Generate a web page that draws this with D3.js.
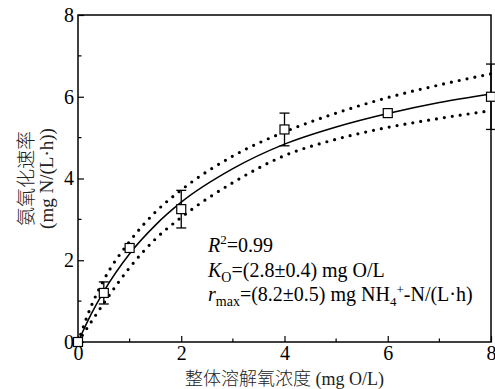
<!DOCTYPE html>
<html>
<head>
<meta charset="utf-8">
<script src="https://cdn.jsdelivr.net/npm/d3@7"></script>
</head>
<body style="margin:0;background:#fff">
<div id="chart"></div>
<script>
// measured points (DO in mg O/L, rate in mg N/(L·h))
var doValues = [0, 0.5, 1, 2, 4, 6, 8];
var rateValues = [0, 1.2, 2.3, 3.25, 5.2, 5.6, 6.0];
var rateErrors = [0, 0.27, 0.08, 0.46, 0.4, 0.08, 0.8];

// fitted curve and confidence band
var curveX = [0, 0.25, 0.5, 1, 1.5, 2, 3, 4, 5, 6, 7, 8];
var fitValues = [0, 0.67, 1.24, 2.16, 2.86, 3.42, 4.24, 4.84, 5.26, 5.59, 5.86, 6.07];
var upperValues = [0, 0.86, 1.52, 2.46, 3.18, 3.72, 4.55, 5.14, 5.60, 5.98, 6.29, 6.56];
var lowerValues = [0, 0.48, 0.95, 1.82, 2.52, 3.05, 3.90, 4.56, 4.96, 5.25, 5.47, 5.66];

var xTicks = [0, 2, 4, 6, 8];
var yTicks = [0, 2, 4, 6, 8];
var minorTicks = [1, 3, 5, 7];

var width = 495, height = 389;
var margin = { top: 15, right: 4, bottom: 47, left: 78 };
var serif = "'Liberation Serif', 'Times New Roman', 'DejaVu Serif', serif";
var cjk = "'Noto Sans CJK SC', sans-serif";

var svg = d3.select("#chart").append("svg")
    .attr("width", width)
    .attr("height", height)
    .style("display", "block")
    .style("font-family", serif);

var x = d3.scaleLinear().domain([0, 8]).range([margin.left, width - margin.right]);
var y = d3.scaleLinear().domain([0, 8]).range([height - margin.bottom, margin.top]);

// frame
svg.append("rect")
    .attr("x", x(0)).attr("y", y(8))
    .attr("width", x(8) - x(0)).attr("height", y(0) - y(8))
    .attr("fill", "none").attr("stroke", "#000").attr("stroke-width", 1.5);

// axes, ticks pointing inward
var xAxis = svg.append("g").attr("transform", "translate(0," + y(0) + ")")
    .call(d3.axisBottom(x).tickValues(xTicks).tickSize(-6).tickPadding(4).tickFormat(d3.format("d")));
xAxis.append("g").selectAll("line").data(minorTicks).enter().append("line")
    .attr("x1", function (d) { return x(d); }).attr("x2", function (d) { return x(d); })
    .attr("y1", 0).attr("y2", -3.5).attr("stroke", "#000").attr("stroke-width", 1.2);

var yAxis = svg.append("g").attr("transform", "translate(" + x(0) + ",0)")
    .call(d3.axisLeft(y).tickValues(yTicks).tickSize(-6).tickPadding(4).tickFormat(d3.format("d")));
yAxis.append("g").selectAll("line").data(minorTicks).enter().append("line")
    .attr("y1", function (d) { return y(d); }).attr("y2", function (d) { return y(d); })
    .attr("x1", 0).attr("x2", 3.5).attr("stroke", "#000").attr("stroke-width", 1.2);

svg.selectAll(".domain").remove();
xAxis.attr("font-family", null).attr("font-size", 20);
yAxis.attr("font-family", null).attr("font-size", 20);
svg.selectAll(".tick line").attr("stroke", "#000").attr("stroke-width", 1.2);
svg.selectAll(".tick text").attr("fill", "#000").style("font-family", serif);

// curves
var line = function (vals) {
    return d3.line()
        .x(function (d, i) { return x(curveX[i]); })
        .y(function (d) { return y(d); })
        .curve(d3.curveMonotoneX)(vals);
};

[upperValues, lowerValues].forEach(function (vals) {
    svg.append("path")
        .attr("d", line(vals))
        .attr("fill", "none")
        .attr("stroke", "#000")
        .attr("stroke-width", 3.2)
        .attr("stroke-linecap", "round")
        .attr("stroke-dasharray", "0,8");
});

svg.append("path")
    .attr("d", line(fitValues))
    .attr("fill", "none")
    .attr("stroke", "#000")
    .attr("stroke-width", 1.5);

// error bars
var pts = doValues.map(function (d, i) { return { x: d, y: rateValues[i], e: rateErrors[i] }; });
var eb = svg.append("g").selectAll("g").data(pts.filter(function (d) { return d.e > 0.1; })).enter().append("g");
eb.append("line")
    .attr("x1", function (d) { return x(d.x); }).attr("x2", function (d) { return x(d.x); })
    .attr("y1", function (d) { return y(d.y + d.e); }).attr("y2", function (d) { return y(d.y - d.e); })
    .attr("stroke", "#000").attr("stroke-width", 1.3);
[1, -1].forEach(function (s) {
    eb.append("line")
        .attr("x1", function (d) { return x(d.x) - 5; }).attr("x2", function (d) { return x(d.x) + 5; })
        .attr("y1", function (d) { return y(d.y + s * d.e); }).attr("y2", function (d) { return y(d.y + s * d.e); })
        .attr("stroke", "#000").attr("stroke-width", 1.3);
});

// markers
svg.append("g").selectAll("rect").data(pts).enter().append("rect")
    .attr("x", function (d) { return x(d.x) - 4.5; })
    .attr("y", function (d) { return y(d.y) - 4.5; })
    .attr("width", 9).attr("height", 9)
    .attr("fill", "#fff").attr("stroke", "#000").attr("stroke-width", 1.2);

// axis titles
var xt = svg.append("text")
    .attr("x", (x(0) + x(8)) / 2).attr("y", 385)
    .attr("text-anchor", "middle").attr("font-size", 18).attr("fill", "#222");
xt.append("tspan").style("font-family", cjk).attr("font-weight", 300).text("整体溶解氧浓度");
xt.append("tspan").style("font-family", serif).text(" (mg O/L)");

var yt = svg.append("text")
    .attr("transform", "translate(33," + (y(0) + y(8)) / 2 + ") rotate(-90)")
    .attr("text-anchor", "middle").attr("font-size", 19).attr("fill", "#222");
yt.append("tspan").style("font-family", cjk).attr("font-weight", 300).attr("x", 0).attr("dy", 0).text("氨氧化速率");
yt.append("tspan").style("font-family", serif).attr("x", 0).attr("dy", 20).text("(mg N/(L·h))");

// fit annotation
var ann = svg.append("g").attr("transform", "translate(208,0)")
    .attr("font-size", 20).style("font-family", serif);
var t1 = ann.append("text").attr("y", 252);
t1.append("tspan").attr("font-style", "italic").text("R");
t1.append("tspan").attr("font-size", 13).attr("dy", -8).text("2");
t1.append("tspan").attr("dy", 8).text("=0.99");

var t2 = ann.append("text").attr("y", 277);
t2.append("tspan").attr("font-style", "italic").text("K");
t2.append("tspan").attr("font-size", 14).attr("dy", 5).text("O");
t2.append("tspan").attr("dy", -5).text("=(2.8±0.4) mg O/L");

var t3 = ann.append("text").attr("y", 301);
t3.append("tspan").attr("font-style", "italic").text("r");
t3.append("tspan").attr("font-size", 14).attr("dy", 5).text("max");
t3.append("tspan").attr("dy", -5).text("=(8.2±0.5) mg NH");
t3.append("tspan").attr("font-size", 13).attr("dy", 5).text("4");
t3.append("tspan").attr("font-size", 13).attr("dy", -12).text("+");
t3.append("tspan").attr("dy", 7).text("-N/(L·h)");
</script>
</body>
</html>
